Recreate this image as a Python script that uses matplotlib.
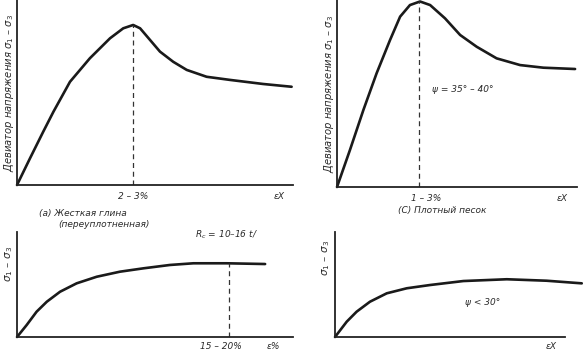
import numpy as np
import matplotlib.pyplot as plt

# (a) stiff overconsolidated clay
clay_eps = [0, 4.7, 9.5, 13.2, 19.2, 26.4, 33.7, 38.5, 42.1, 44.6, 48.2, 51.8,
            56.6, 61.5, 68.7, 77.2, 89.2, 99.5]
clay_dev = [0, 14.4, 28.8, 39.6, 55.8, 68.5, 79.3, 84.7, 86.5, 84.7, 78.4, 72.1,
            66.6, 62.2, 58.5, 56.8, 54.6, 53.1]
clay_peak = 42.1

# (b) soft clay
soft_eps = [0, 3.5, 7.1, 10.8, 15.6, 21.6, 28.9, 37.3, 45.8, 55.4, 63.9, 76.0, 89.9]
soft_dev = [0, 11.4, 24.1, 33.6, 43.1, 51.1, 57.4, 62.2, 65.4, 68.6, 70.2, 70.2, 69.5]
soft_mark = 76.8

# (c) dense sand
sand_eps = [0, 5.4, 11.0, 16.5, 22.1, 26.3, 30.4, 34.6, 38.8, 45.0, 51.3, 58.2,
            66.5, 76.3, 86.0, 99.2]
sand_dev = [0, 19.8, 41.2, 60.8, 78.6, 91.1, 97.3, 99.2, 97.3, 90.2, 81.3, 75.0,
            68.8, 65.2, 63.8, 63.1]
sand_peak = 34.0

# (d) loose sand
loose_eps = [0, 5.1, 9.4, 15.2, 22.5, 31.2, 41.3, 55.8, 74.7, 92.0, 107.3]
loose_dev = [0, 14.6, 24.1, 33.6, 41.6, 46.4, 49.5, 53.3, 55.0, 53.6, 51.1]

W, H = 583, 351
fig = plt.figure(figsize=(W / 100, H / 100), dpi=100)
fig.patch.set_facecolor("white")

txt = dict(fontsize=6.5, style="italic", color="#2a2a2a", family="DejaVu Sans")
ylab = dict(txt, fontsize=7.2)
ylab_small = dict(txt, fontsize=7.5)


def px_axes(left, bottom, width, height):
    ax = fig.add_axes([left / W, (H - bottom) / H, width / W, height / H])
    ax.set_xlim(0, 100)
    ax.set_ylim(0, 100)
    for s in ["top", "right"]:
        ax.spines[s].set_visible(False)
    for s in ["left", "bottom"]:
        ax.spines[s].set_linewidth(1.3)
        ax.spines[s].set_color("#222222")
    ax.set_xticks([])
    ax.set_yticks([])
    ax.patch.set_alpha(0)
    return ax


line = dict(color="#1a1a1a", lw=1.9, solid_joinstyle="round", solid_capstyle="round", clip_on=False)
dash = dict(color="#333333", lw=0.9, ls=(0, (4, 3)))

# panel a
ax = px_axes(17, 185, 276, 185)
ax.plot(clay_eps, clay_dev, **line)
ax.plot([clay_peak, clay_peak], [0, 86.5], **dash)
ax.set_ylabel("Девиатор напряжения σ$_1$ – σ$_3$", labelpad=1, **ylab)
ax.text(clay_peak, -4, "2 – 3%", ha="center", va="top", **txt)
ax.text(95, -4, "εX", ha="center", va="top", **txt)
ax.text(8, -13, "(a) Жесткая глина", ha="left", va="top", **txt)
ax.text(15, -19, "(переуплотненная)", ha="left", va="top", **txt)

# panel c
ax = px_axes(337, 187, 240, 187)
ax.plot(sand_eps, sand_dev, **line)
ax.plot([sand_peak, sand_peak], [0, 99.2], **dash)
ax.set_ylabel("Девиатор напряжения σ$_1$ – σ$_3$", labelpad=1, **ylab)
ax.text(sand_peak + 3, -3.5, "1 – 3%", ha="center", va="top", **txt)
ax.text(94, -3.5, "εX", ha="center", va="top", **txt)
ax.text(52.5, 51.9, "ψ = 35° – 40°", ha="center", va="center", **txt)
ax.text(44, -10, "(C) Плотный песок", ha="center", va="top", **txt)

# panel b
ax = px_axes(17, 337, 276, 105)
ax.plot(soft_eps, soft_dev, **line)
ax.plot([soft_mark, soft_mark], [0, 70.2], **dash)
ax.set_ylabel("σ$_1$ – σ$_3$", **ylab_small)
ax.yaxis.set_label_coords(-0.006, 0.7)
ax.text(soft_mark - 3, -5, "15 – 20%", ha="center", va="top", **txt)
ax.text(93, -5, "ε%", ha="center", va="top", **txt)
ax.text(76, 97, "R$_c$ = 10–16 t/", ha="center", va="center", **txt)

# panel d
ax = px_axes(335, 337, 230, 105)
ax.plot(loose_eps, loose_dev, **line)
ax.set_ylabel("σ$_1$ – σ$_3$", **ylab_small)
ax.yaxis.set_label_coords(-0.013, 0.75)
ax.text(94, -5, "εX", ha="center", va="top", **txt)
ax.text(64, 33, "ψ < 30°", ha="center", va="center", **txt)

fig.savefig("out.png", dpi=100, facecolor="white")
